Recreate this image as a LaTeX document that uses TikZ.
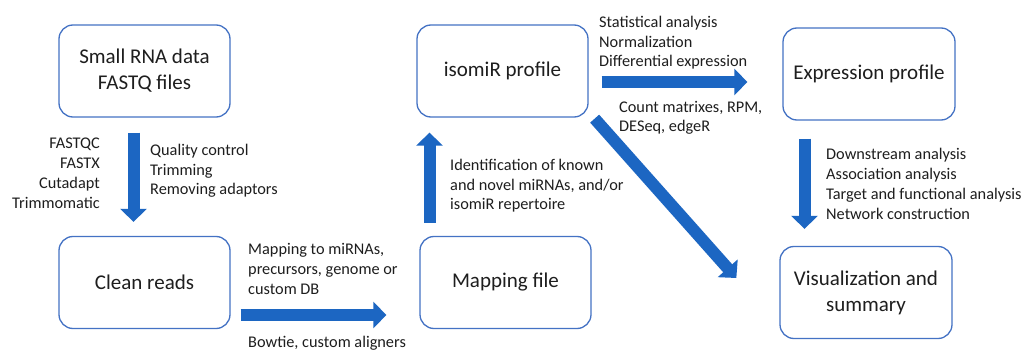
\documentclass[tikz,border=0pt]{standalone}
\usepackage{fontspec}
\setmainfont{Carlito}
\usetikzlibrary{arrows.meta}
\definecolor{boxblue}{RGB}{68,114,196}
\definecolor{arrblue}{RGB}{28,102,194}
\definecolor{txt}{RGB}{30,30,30}
\begin{document}
\begin{tikzpicture}[x=1pt,y=1pt,
  box/.style={draw=boxblue, line width=1.3pt, rounded corners=14pt, minimum width=171pt, minimum height=92pt, align=center, font=\fontsize{21}{26}\selectfont, text=txt, inner sep=0pt},
  lbl/.style={align=left, anchor=base west, font=\fontsize{16.3}{19.7}\selectfont, text=txt, inner sep=0pt},
  lblr/.style={lbl, align=right, anchor=base east},
  blk/.style={draw=arrblue, line width=12pt, -{Triangle[width=26pt,length=13pt]}}
]
\path[use as bounding box, fill=white] (0,0) rectangle (1026,-350);

\node[box] (raw) at (144.5,-71) {Small RNA data\\FASTQ files};
\node[box] (clean) at (144.5,-282.5) {Clean reads};
\node[box] (iso) at (502.5,-71) {isomiR profile};
\node[box] (map) at (505.5,-282.5) {Mapping file};
\node[box, minimum width=172pt] (expr) at (869,-74) {Expression profile};
\node[box, minimum width=172pt] (vis) at (866,-292.5) {Visualization and\\summary};

\draw[blk] ([xshift=-11pt,yshift=-15pt]raw.south) -- ([xshift=-11pt,yshift=14pt]clean.north);
\draw[blk] ([xshift=10pt,yshift=-32.5pt]clean.east) -- ([xshift=-33pt,yshift=-32.5pt]map.west);
\draw[blk] ([xshift=-76pt,yshift=13pt]map.north) -- ([xshift=-73pt,yshift=-15pt]iso.south);
\draw[blk] ([xshift=13pt,yshift=-11pt]iso.east) -- ([xshift=-35pt,yshift=-8pt]expr.west);
\draw[blk] ([xshift=6pt,yshift=-1pt]iso.south east) -- ([xshift=-43pt,yshift=14.5pt]vis.west);
\draw[blk] ([xshift=-64.5pt,yshift=-18pt]expr.south) -- ([xshift=-61.5pt,yshift=17pt]vis.north);

\node[lblr] (tools1) at (100,-208) {FASTQC\\FASTX\\Cutadapt\\Trimmomatic};
\node[lbl] (qc) at (150,-195) {Quality control\\Trimming\\Removing adaptors};
\node[lbl] (mapl) at (248,-294) {Mapping to miRNAs,\\precursors, genome or\\custom DB};
\node[lbl] (bowtie) at (248,-347) {Bowtie, custom aligners};
\node[lbl] (ident) at (450,-210) {Identification of known\\and novel miRNAs, and/or\\isomiR repertoire};
\node[lbl] (stat) at (599,-67) {Statistical analysis\\Normalization\\Differential expression};
\node[lbl] (count) at (619,-132) {Count matrixes, RPM,\\DESeq, edgeR};
\node[lbl] (down) at (826,-219) {Downstream analysis\\Association analysis\\Target and functional analysis\\Network construction};
\end{tikzpicture}
\end{document}
